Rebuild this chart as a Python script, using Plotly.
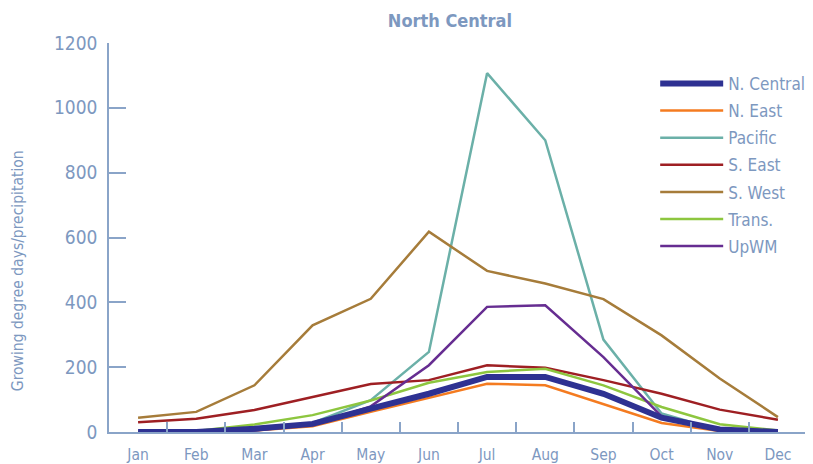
import plotly.graph_objects as go

months = ["Jan", "Feb", "Mar", "Apr", "May", "Jun", "Jul", "Aug", "Sep", "Oct", "Nov", "Dec"]
y_ticks = [0, 200, 400, 600, 800, 1000, 1200]

n_central = [0, 0, 10, 25, 72, 118, 170, 170, 118, 44, 8, 0]
n_east = [0, 0, 5, 18, 62, 105, 149, 144, 87, 28, 3, 0]
pacific = [0, 0, 5, 28, 98, 247, 1107, 900, 285, 57, 5, 0]
s_east = [30, 41, 68, 108, 148, 160, 206, 198, 160, 118, 69, 38]
s_west = [44, 62, 144, 329, 411, 618, 497, 458, 410, 298, 165, 46]
trans = [0, 3, 23, 52, 97, 152, 185, 195, 144, 77, 24, 5]
upwm = [0, 0, 5, 22, 79, 206, 386, 391, 231, 48, 5, 0]

series = [
    ("N. East", n_east, "#f47b20", 2.5, 2),
    ("Pacific", pacific, "#6bb0a8", 2.5, 3),
    ("S. East", s_east, "#9e1f23", 2.5, 4),
    ("S. West", s_west, "#a67c3a", 2.5, 5),
    ("Trans.", trans, "#8dc63f", 2.5, 6),
    ("UpWM", upwm, "#662d91", 2.5, 7),
    ("N. Central", n_central, "#2e3192", 6, 1),
]

TEXT = "#7d98bf"
AXIS = "#8aa4c8"
FONT = "Liberation Sans Narrow, DejaVu Sans Condensed, Arial Narrow, sans-serif"

# The page body has an 8px margin, so the figure is sized to fit the 813x464 window.
fig = go.Figure()
for name, vals, color, width, rank in series:
    fig.add_trace(go.Scatter(
        x=months, y=vals, name=name, mode="lines",
        line=dict(color=color, width=width),
        legendrank=rank, legendgroup=name,
    ))

fig.update_layout(
    width=805, height=456,
    margin=dict(l=101, r=6, t=35, b=32, autoexpand=False),
    paper_bgcolor="white", plot_bgcolor="white",
    font=dict(family=FONT, color=TEXT, size=18),
    title=dict(text="<b>North Central</b>", x=0.549, xanchor="center", y=0.972, yanchor="middle",
               font=dict(family=FONT, size=18, color=TEXT), automargin=False),
    legend=dict(x=0.7825, xanchor="left", y=0.941, yanchor="top",
                font=dict(family=FONT, size=17, color=TEXT),
                bgcolor="rgba(0,0,0,0)", tracegroupgap=2, itemwidth=63),
    showlegend=True,
    annotations=[dict(
        text="Growing degree days/precipitation", xref="paper", yref="paper",
        x=-0.1304, y=0.416, xanchor="center", yanchor="middle", textangle=-90,
        showarrow=False, font=dict(family=FONT, size=15.5, color=TEXT),
    )],
)
fig.update_xaxes(
    type="category", categoryorder="array", categoryarray=months,
    range=[-0.5, 11.5], showgrid=False, showline=True, linecolor=AXIS, linewidth=1.5,
    ticks="inside", tickson="boundaries", ticklen=10, tickcolor=AXIS, tickwidth=1.5,
    tickfont=dict(family=FONT, size=15.5, color=TEXT), ticklabelstandoff=8,
    zeroline=False, automargin=False,
)
fig.update_yaxes(
    range=[0, 1200], tickvals=y_ticks, showgrid=False, showline=True, linecolor=AXIS, linewidth=1.5,
    ticks="inside", ticklen=17, tickcolor=AXIS, tickwidth=1.5,
    tickfont=dict(family=FONT, size=19, color=TEXT), ticklabelstandoff=6,
    zeroline=False, automargin=False,
)

fig.write_html("out.html")
